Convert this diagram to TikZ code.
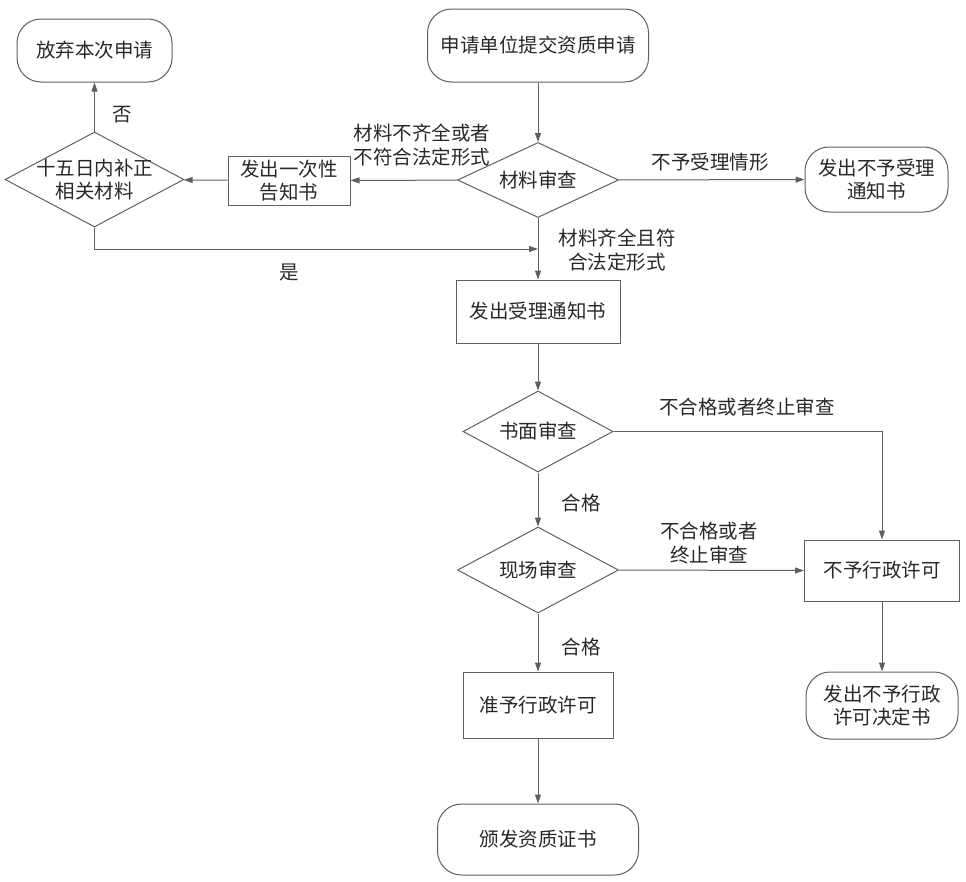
\documentclass[tikz,border=0pt]{standalone}
\usepackage{fontspec}
\setmainfont{Noto Sans CJK SC}
\usetikzlibrary{shapes.geometric,arrows.meta}
\definecolor{linegray}{RGB}{95,95,95}
\definecolor{textgray}{RGB}{40,40,40}

\begin{document}
\begin{tikzpicture}[x=1pt,y=-1pt,
    every node/.style={font=\fontsize{19.5}{23.5}\selectfont, text=textgray, align=center},
    term/.style={draw=linegray, line width=1pt, rounded corners=24pt},
    proc/.style={draw=linegray, line width=1pt, rectangle},
    decide/.style={draw=linegray, line width=1pt, diamond, aspect=2, inner sep=-8pt},
    arr/.style={draw=linegray, line width=1pt, -{Triangle[length=9pt,width=6pt]}}]
    \useasboundingbox (0,0) rectangle (966,881);

    % 受理阶段
    \node[term, minimum width=221, minimum height=73] (start) at (538,45.5) {申请单位提交资质申请};
    \node[decide, minimum width=161, minimum height=75] (check) at (538,180) {材料审查};
    \node[term, minimum width=143, minimum height=65] (reject) at (876.5,179.5) {发出不予受理\\通知书};
    \node[proc, minimum width=122, minimum height=49] (notice) at (289,180.5) {发出一次性\\告知书};
    \node[decide, minimum width=179, minimum height=95] (supp) at (94.5,179.5) {十五日内补正\\相关材料};
    \node[term, minimum width=155, minimum height=63] (giveup) at (94.5,50.5) {放弃本次申请};
    \node[proc, minimum width=164, minimum height=63] (accept) at (538,311.5) {发出受理通知书};
    \coordinate (join) at (538,249);

    % 审查阶段
    \node[decide, minimum width=150, minimum height=81] (written) at (538,431.5) {书面审查};
    \node[decide, minimum width=161, minimum height=86] (site) at (538,570) {现场审查};
    \node[proc, minimum width=155, minimum height=61] (deny) at (882,570.5) {不予行政许可};
    \node[term, minimum width=152, minimum height=67] (denydoc) at (882,705.5) {发出不予行政\\许可决定书};
    \node[proc, minimum width=150, minimum height=66] (grant) at (538,705) {准予行政许可};
    \node[term, minimum width=201, minimum height=71] (cert) at (538,839.5) {颁发资质证书};

    % 连线
    \draw[arr] (start) -- (check);
    \draw[arr] (check) -- (notice);
    \draw[arr] (check) -- (reject);
    \draw[arr] (notice) -- (supp);
    \draw[arr] (supp) -- (giveup);
    \draw[arr] (supp.south) |- (join);
    \draw[arr] (check) -- (accept);
    \draw[arr] (accept) -- (written);
    \draw[arr] (written.east) -| (deny.north);
    \draw[arr] (written) -- (site);
    \draw[arr] (site.east) -- (deny.west);
    \draw[arr] (site) -- (grant);
    \draw[arr] (grant) -- (cert);
    \draw[arr] (deny) -- (denydoc);

    % 标注
    \node (lbl-incomplete) at (422,145) {材料不齐全或者\\不符合法定形式};
    \node (lbl-refuse) at (710,162) {不予受理情形};
    \node (lbl-no) at (122,115) {否};
    \node (lbl-yes) at (289,272) {是};
    \node (lbl-complete) at (617,250) {材料齐全且符\\合法定形式};
    \node (lbl-fail1) at (747,407) {不合格或者终止审查};
    \node (lbl-pass1) at (581,503) {合格};
    \node (lbl-fail2) at (709,543) {不合格或者\\终止审查};
    \node (lbl-pass2) at (581,647) {合格};
\end{tikzpicture}
\end{document}
